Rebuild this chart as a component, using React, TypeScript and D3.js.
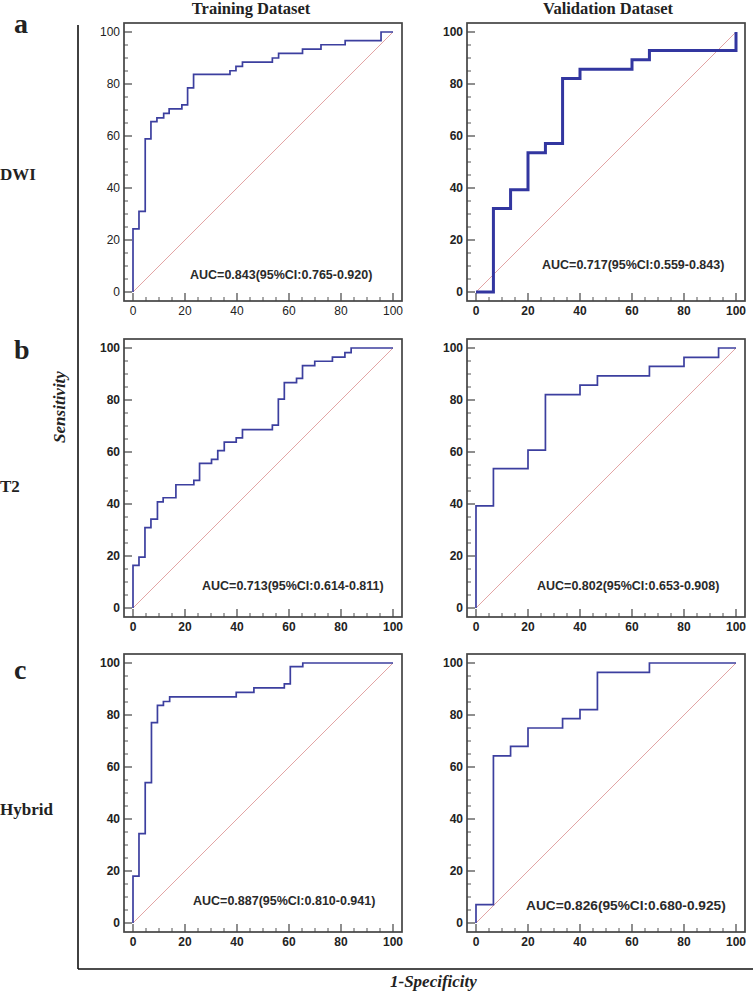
import React from "react";
import * as d3 from "d3";

// ---- data ----
const columnTitles = ["Training Dataset", "Validation Dataset"];
const rowLetters = ["a", "b", "c"];
const rowNames = ["DWI", "T2", "Hybrid"];
const majorTicks = [0, 20, 40, 60, 80, 100];
const tickLabels = ["0", "20", "40", "60", "80", "100"];
const minorTicks = [5, 10, 15, 25, 30, 35, 45, 50, 55, 65, 70, 75, 85, 90, 95];

const dwiTrainFpr = [0, 0, 2.3, 4.7, 6.9, 9.2, 11.8, 13.9, 18.8, 21.0, 23.3, 37.3, 39.6, 42.1, 53.6, 56.0, 65.2, 72.3, 81.6, 95.4, 100];
const dwiTrainTpr = [0, 24.3, 31.0, 58.9, 65.5, 67.0, 68.7, 70.4, 72.0, 78.5, 83.7, 85.1, 86.8, 88.4, 90.0, 91.8, 93.4, 95.1, 96.7, 100, 100];

const dwiValFpr = [0, 6.7, 13.3, 20, 26.7, 33.3, 40, 60, 66.7, 100];
const dwiValTpr = [0, 32.1, 39.3, 53.6, 57.1, 82.1, 85.7, 89.3, 92.9, 100];

const t2TrainFpr = [0, 0, 2.3, 4.6, 6.9, 9.4, 11.6, 16.5, 23.4, 25.6, 30.2, 32.6, 35.1, 39.7, 42.1, 53.6, 55.9, 58.2, 62.9, 65.2, 69.9, 76.7, 81.5, 83.9, 100];
const t2TrainTpr = [0, 16.4, 19.6, 30.9, 34.2, 40.8, 42.4, 47.4, 49.1, 55.6, 57.2, 60.5, 63.8, 65.4, 68.6, 70.3, 80.3, 86.7, 88.3, 93.2, 94.9, 96.5, 98.2, 100, 100];

const t2ValFpr = [0, 0, 6.7, 20, 26.7, 40, 46.7, 66.7, 80, 93.3, 100];
const t2ValTpr = [0, 39.3, 53.6, 60.7, 82.1, 85.7, 89.3, 92.9, 96.4, 100, 100];

const hybTrainFpr = [0, 0, 2.3, 4.7, 7.1, 9.4, 11.7, 14.1, 39.7, 46.5, 58.2, 60.5, 65.3, 100];
const hybTrainTpr = [0, 18.0, 34.4, 54.0, 77.1, 83.7, 85.2, 87.0, 88.7, 90.4, 92.0, 98.6, 100, 100];

const hybValFpr = [0, 0, 6.7, 13.3, 20, 33.3, 40, 46.7, 66.7, 100];
const hybValTpr = [0, 7.1, 64.3, 67.9, 75, 78.6, 82.1, 96.4, 100, 100];

const aucLabels = [
  "AUC=0.843(95%CI:0.765-0.920)",
  "AUC=0.717(95%CI:0.559-0.843)",
  "AUC=0.713(95%CI:0.614-0.811)",
  "AUC=0.802(95%CI:0.653-0.908)",
  "AUC=0.887(95%CI:0.810-0.941)",
  "AUC=0.826(95%CI:0.680-0.925)",
];

// ---- layout ----
const W = 753;
const H = 992;
const BOX = 278;
const PAD = 9;
const colX = [124, 467];
const rowY = [23, 339, 654];
const BLUE = "#3c3f9f";

type Panel = {
  fpr: number[];
  tpr: number[];
  col: number;
  row: number;
  lw: number;
  color: string;
  auc: string;
  aucX: number;
  aucY: number;
  aucSize: number;
  boldTicks: boolean;
};

const panels: Panel[] = [
  { fpr: dwiTrainFpr, tpr: dwiTrainTpr, col: 0, row: 0, lw: 1.7, color: BLUE, auc: aucLabels[0], aucX: 66, aucY: 256, aucSize: 12.5, boldTicks: false },
  { fpr: dwiValFpr, tpr: dwiValTpr, col: 1, row: 0, lw: 3, color: "#3236a0", auc: aucLabels[1], aucX: 75, aucY: 246, aucSize: 12.5, boldTicks: true },
  { fpr: t2TrainFpr, tpr: t2TrainTpr, col: 0, row: 1, lw: 1.7, color: BLUE, auc: aucLabels[2], aucX: 78, aucY: 251, aucSize: 12.5, boldTicks: true },
  { fpr: t2ValFpr, tpr: t2ValTpr, col: 1, row: 1, lw: 1.7, color: BLUE, auc: aucLabels[3], aucX: 70, aucY: 251, aucSize: 12.5, boldTicks: true },
  { fpr: hybTrainFpr, tpr: hybTrainTpr, col: 0, row: 2, lw: 1.7, color: BLUE, auc: aucLabels[4], aucX: 69, aucY: 251, aucSize: 12.5, boldTicks: true },
  { fpr: hybValFpr, tpr: hybValTpr, col: 1, row: 2, lw: 1.7, color: BLUE, auc: aucLabels[5], aucX: 59, aucY: 256, aucSize: 13.7, boldTicks: true },
];

function RocPanel({ p }: { p: Panel }) {
  const x0 = colX[p.col];
  const y0 = rowY[p.row];
  const x = d3.scaleLinear().domain([0, 100]).range([x0 + PAD, x0 + BOX - PAD]);
  const y = d3.scaleLinear().domain([0, 100]).range([y0 + BOX - PAD, y0 + PAD]);
  const pts: [number, number][] = p.fpr.map((f, i) => [f, p.tpr[i]]);
  const line = d3
    .line<[number, number]>()
    .x((d) => x(d[0]))
    .y((d) => y(d[1]))
    .curve(d3.curveStepAfter);
  const diag = d3
    .line<number>()
    .x((d) => x(d))
    .y((d) => y(d));
  const bottom = y0 + BOX;
  const left = x0;
  const tickFont = "'Liberation Sans', Arial, sans-serif";
  return (
    <g>
      {/* diagonal */}
      <path d={diag([0, 100]) || ""} stroke="#e2a4a4" strokeWidth={1} fill="none" />
      {/* ticks */}
      {majorTicks.map((t) => (
        <g key={"mx" + t}>
          <line x1={x(t)} x2={x(t)} y1={bottom} y2={bottom - 8} stroke="#444" strokeWidth={1.2} />
          <line x1={left} x2={left + 8} y1={y(t)} y2={y(t)} stroke="#444" strokeWidth={1.2} />
        </g>
      ))}
      {minorTicks.map((t) => (
        <g key={"mn" + t}>
          <line x1={x(t)} x2={x(t)} y1={bottom} y2={bottom - 4} stroke="#555" strokeWidth={1} />
          <line x1={left} x2={left + 4} y1={y(t)} y2={y(t)} stroke="#555" strokeWidth={1} />
        </g>
      ))}
      {/* tick labels */}
      {majorTicks.map((t, i) => (
        <g key={"lb" + t} fontFamily={tickFont} fontSize={12} fontWeight={p.boldTicks ? "bold" : "normal"} fill="#222">
          <text x={x(t)} y={bottom + 14} textAnchor="middle">
            {tickLabels[i]}
          </text>
          <text x={left - 4} y={y(t)} dy="0.35em" textAnchor="end">
            {tickLabels[i]}
          </text>
        </g>
      ))}
      {/* curve */}
      <path d={line(pts) || ""} fill="none" stroke={p.color} strokeWidth={p.lw} strokeLinejoin="miter" />
      {/* box */}
      <rect x={x0} y={y0} width={BOX} height={BOX} fill="none" stroke="#444" strokeWidth={1.7} />
      {/* AUC */}
      <text x={x0 + p.aucX} y={y0 + p.aucY} fontFamily={tickFont} fontWeight="bold" fontSize={p.aucSize} fill="#2a2a2a">
        {p.auc}
      </text>
    </g>
  );
}

export default function App() {
  const serif = "'Liberation Serif', 'Times New Roman', serif";
  return (
    <svg width={W} height={H} viewBox={`0 0 ${W} ${H}`} style={{ position: "absolute", left: 0, top: 0, background: "#fff" }}>
      <rect x={0} y={0} width={W} height={H} fill="#fff" />
      {/* column titles */}
      <text x={251} y={14} textAnchor="middle" fontFamily={serif} fontWeight="bold" fontSize={16.5} fill="#222">
        {columnTitles[0]}
      </text>
      <text x={608} y={14} textAnchor="middle" fontFamily={serif} fontWeight="bold" fontSize={16.5} fill="#222">
        {columnTitles[1]}
      </text>
      {/* row letters */}
      {[33, 359, 679].map((yy, i) => (
        <text key={"l" + i} x={14} y={yy} fontFamily={serif} fontWeight="bold" fontSize={28} fill="#222">
          {rowLetters[i]}
        </text>
      ))}
      {[180, 492, 815].map((yy, i) => (
        <text key={"n" + i} x={0} y={yy} fontFamily={serif} fontWeight="bold" fontSize={17} fill="#222">
          {rowNames[i]}
        </text>
      ))}
      {/* outer frame */}
      <line x1={78} y1={25} x2={78} y2={969} stroke="#111" strokeWidth={1.6} />
      <line x1={78} y1={969} x2={W} y2={969} stroke="#111" strokeWidth={1.6} />
      {/* axis titles */}
      <text transform="translate(65,407) rotate(-90)" textAnchor="middle" fontFamily={serif} fontWeight="bold" fontStyle="italic" fontSize={17} fill="#222">
        Sensitivity
      </text>
      <text x={390} y={987} fontFamily={serif} fontWeight="bold" fontStyle="italic" fontSize={17} fill="#222">
        1-Specificity
      </text>
      {panels.map((p, i) => (
        <RocPanel key={i} p={p} />
      ))}
    </svg>
  );
}
